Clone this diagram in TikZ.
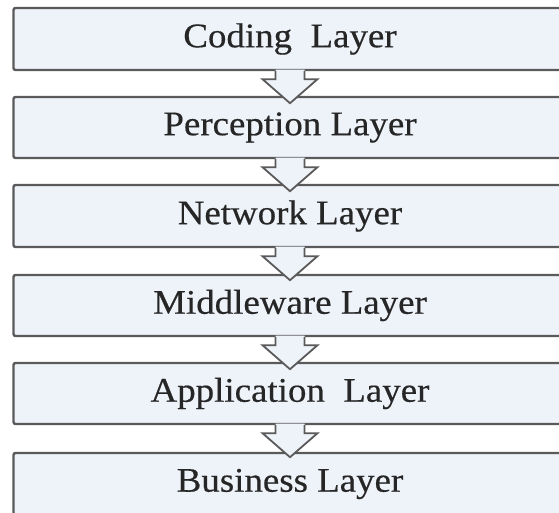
\documentclass[tikz,border=0pt]{standalone}
\usepackage{fontspec}
\setmainfont{Liberation Serif}[FakeStretch=1.07,FakeBold=0.4]
\usetikzlibrary{calc}
\definecolor{boxfill}{HTML}{EEF2F9}
\definecolor{boxline}{HTML}{5A5A5A}
\definecolor{txt}{HTML}{262626}
\begin{document}
\begin{tikzpicture}[x=1pt,y=-1pt,
  layer/.style={draw=boxline, line width=2.4pt, fill=boxfill, rounded corners=2pt,
    minimum width=553pt, inner sep=0pt, text=txt,
    font=\fontsize{34.5}{34.5}\selectfont},
  flowfill/.style={fill=boxfill},
  flowline/.style={draw=boxline, line width=1.8pt, line join=miter}]
\clip (0,0) rectangle (559,513);
\fill[white] (0,0) rectangle (559,513);
\node[layer, minimum height=62pt] (l1) at (290,39)    {Coding\ \ Layer};
\node[layer, minimum height=61pt] (l2) at (290,127.5) {Perception Layer};
\node[layer, minimum height=62pt] (l3) at (290,216)   {Network Layer};
\node[layer, minimum height=61pt] (l4) at (290,305.5) {Middleware Layer};
\node[layer, minimum height=61pt] (l5) at (290,393.5) {Application\ \ Layer};
\node[layer, minimum height=62pt] (l6) at (290,484)   {Business Layer};
\foreach \a/\b in {l1/l2,l2/l3,l3/l4,l4/l5,l5/l6}{
  \fill[flowfill] ($(\a.south)+(-14.5,-1.6)$) -- ($(\a.south)+(-14.5,8)$) -- ($(\a.south)+(-27.5,8)$)
     -- ($(\a.south)+(0,32)$) -- ($(\a.south)+(27.5,8)$) -- ($(\a.south)+(14.5,8)$)
     -- ($(\a.south)+(14.5,-1.6)$) -- cycle;
  \draw[flowline] ($(\a.south)+(-14.5,0)$) -- ($(\a.south)+(-14.5,8)$) -- ($(\a.south)+(-27.5,8)$)
     -- ($(\a.south)+(0,32)$) -- ($(\a.south)+(27.5,8)$) -- ($(\a.south)+(14.5,8)$)
     -- ($(\a.south)+(14.5,0)$);
}
\end{tikzpicture}
\end{document}
